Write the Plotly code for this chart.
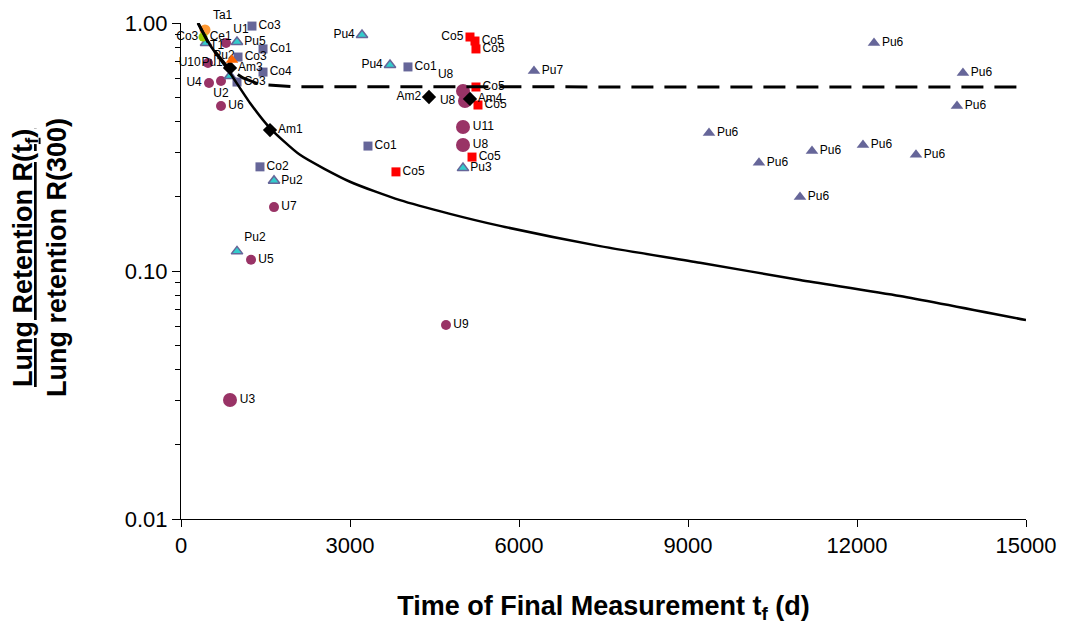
import plotly.graph_objects as go

# ---------------- data (time in days, normalised retention) ----------------
# Uranium, small circles
u_t = [799, 479, 497, 710, 710, 1651, 1243, 4704]
u_r = [0.830, 0.690, 0.573, 0.584, 0.463, 0.181, 0.111, 0.0606]
u_lab = ["U1", "U10", "U4", "U2", "U6", "U7", "U5", "U9"]
u_pos = ["top right", "middle left", "middle left", "bottom center",
         "middle right", "middle right", "middle right", "middle right"]

# Uranium, large circles
ub_t = [870, 5006, 5041, 5006, 5006]
ub_r = [0.0302, 0.532, 0.485, 0.381, 0.322]
ub_lab = ["U3", "U8", "U8", "U11", "U8"]
ub_pos = ["middle right", "top left", "middle left", "middle right", "middle right"]

# Cobalt (Co1-Co4), slate squares
co_t = [391, 1260, 1456, 1012, 1456, 994, 1402, 3319, 4029]
co_r = [0.878, 0.972, 0.786, 0.729, 0.634, 0.578, 0.263, 0.319, 0.665]
co_lab = ["Co3", "Co3", "Co1", "Co3", "Co4", "Co3", "Co2", "Co1", "Co1"]
co_pos = ["middle left"] + ["middle right"] * 8

# Cobalt Co5, red squares
co5_t = [5130, 5219, 5236, 5236, 5272, 5166, 3816]
co5_r = [0.878, 0.846, 0.786, 0.552, 0.467, 0.288, 0.251]
co5_lab = ["Co5"] * 7
co5_pos = ["middle left"] + ["middle right"] * 6

# Plutonium, cyan triangles
pu_t = [444, 994, 870, 1651, 994, 3213, 3710, 5006]
pu_r = [0.830, 0.838, 0.611, 0.231, 0.120, 0.895, 0.677, 0.260]
pu_lab = ["Pu2", "Pu5", "Pu1", "Pu2", "Pu2", "Pu4", "Pu4", "Pu3"]
pu_pos = ["bottom right", "middle right", "top left", "middle right",
          "top right", "middle left", "middle left", "middle right"]

# Plutonium Pu6/Pu7, slate triangles
pus_t = [6266, 9373, 10260, 11201, 10988, 12106, 12302, 13881, 13775, 13047]
pus_r = [0.640, 0.360, 0.273, 0.305, 0.199, 0.322, 0.830, 0.629, 0.463, 0.294]
pus_lab = ["Pu7"] + ["Pu6"] * 9

# Americium, black diamonds
am_t = [870, 1580, 4402, 5130]
am_r = [0.659, 0.370, 0.503, 0.494]
am_lab = ["Am3", "Am1", "Am2", "Am4"]
am_pos = ["middle right", "middle right", "middle left", "middle right"]

# single nuclides
ta_t, ta_r = [426], [0.937]
ce_t, ce_r = [391], [0.878]
t1_t, t1_r = [905], [0.709]

# model curves
curve_t = [302, 515, 834, 1225, 1580, 2112, 3000, 3888, 4775, 5663, 7438, 9213,
           10988, 12763, 15000]
curve_r = [1.0, 0.815, 0.646, 0.476, 0.377, 0.294, 0.229, 0.193, 0.170, 0.152,
           0.126, 0.108, 0.0920, 0.0793, 0.0634]
dash_t = [302, 500, 834, 1100, 1400, 2000, 15000]
dash_r = [1.0, 0.82, 0.66, 0.60, 0.565, 0.553, 0.552]

x_ticks = [0, 3000, 6000, 9000, 12000, 15000]
x_ticktext = ["0", "3000", "6000", "9000", "12000", "15000"]

SLATE = "#666699"
MAROON = "#993366"
FONT = "Liberation Sans, Arial"
TXT = dict(family=FONT, size=12, color="black")

fig = go.Figure()


def add(x, y, labels, pos, symbol, size, color, line_color=None, line_w=0):
    fig.add_trace(go.Scatter(
        x=x, y=y, mode="markers+text", text=labels, textposition=pos,
        textfont=TXT, cliponaxis=False, showlegend=False,
        marker=dict(symbol=symbol, size=size, color=color, opacity=1,
                    line=dict(color=line_color or color, width=line_w))))


add(co_t, co_r, co_lab, co_pos, "square", [6] + [9] * 8, SLATE)
add(co5_t, co5_r, co5_lab, co5_pos, "square", 9, "#FF0000")
add(u_t, u_r, u_lab, u_pos, "circle", 10, MAROON)
add(ub_t, ub_r, ub_lab, ub_pos, "circle", 14, MAROON)
add(pu_t, pu_r, pu_lab, pu_pos, "triangle-up", 10, "#33CCCC", SLATE, 1.5)
add(pus_t, pus_r, pus_lab, ["middle right"] * len(pus_t), "triangle-up", 11, SLATE)
add(am_t, am_r, am_lab, am_pos, "diamond", 11, "black")
add(ta_t, ta_r, ["Ta1"], ["top right"], "circle", 11, "#FF9933")
add(ce_t, ce_r, ["Ce1"], ["middle right"], "circle", 9, "#99CC00")
add(t1_t, t1_r, ["T1"], ["top left"], "triangle-up", 11, "#FF6600")

fig.add_trace(go.Scatter(x=dash_t, y=dash_r, mode="lines", showlegend=False,
                         line=dict(color="black", width=3, dash="22px,11px"),
                         cliponaxis=False))
fig.add_trace(go.Scatter(x=curve_t, y=curve_r, mode="lines", showlegend=False,
                         line=dict(color="black", width=2.5, shape="spline",
                                   smoothing=0.6),
                         cliponaxis=False))

fig.add_annotation(text="<b><u>Lung Retention R(t<sub>f</sub>)</u></b>",
                   textangle=-90, xref="paper", yref="paper", x=0, y=0.5,
                   xanchor="center", yanchor="middle", xshift=-156, yshift=13,
                   showarrow=False, font=dict(family=FONT, size=27, color="black"))
fig.add_annotation(text="<b>Lung retention R(300)</b>",
                   textangle=-90, xref="paper", yref="paper", x=0, y=0.5,
                   xanchor="center", yanchor="middle", xshift=-124, yshift=13,
                   showarrow=False, font=dict(family=FONT, size=27, color="black"))

fig.update_layout(
    width=1077, height=628,
    margin=dict(l=173, r=59, t=15, b=117, autoexpand=False),
    paper_bgcolor="white", plot_bgcolor="white",
    font=dict(family=FONT, color="black"),
    xaxis=dict(range=[0, 15000], tickvals=x_ticks, ticktext=x_ticktext,
               automargin=False,
               ticks="outside", ticklen=7, tickcolor="black",
               showline=True, linecolor="black", linewidth=1,
               showgrid=False, zeroline=False,
               tickfont=dict(size=22),
               title=dict(text="<b>Time of Final Measurement t<sub>f</sub> (d)</b>",
                          font=dict(size=27), standoff=38)),
    yaxis=dict(type="log", range=[-2, 0], dtick=1, tickformat=".2f",
               automargin=False,
               ticks="outside", ticklen=8, tickcolor="black",
               minor=dict(ticks="outside", ticklen=5, tickcolor="black",
                          dtick="D1", showgrid=False),
               showline=True, linecolor="black", linewidth=1,
               showgrid=False, zeroline=False,
               tickfont=dict(size=22)),
)

fig.write_html("out.html")
